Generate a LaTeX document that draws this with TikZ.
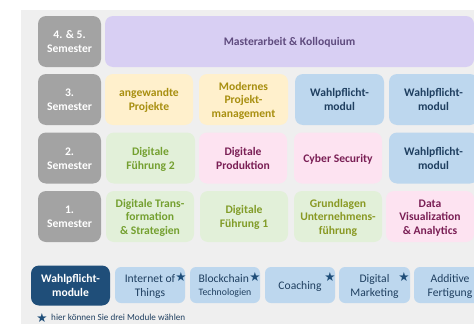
\documentclass[tikz,border=0pt]{standalone}
\usepackage{fontspec}
\setmainfont{Carlito}
\newfontfamily\starfont{DejaVu Sans}
\newcommand{\Tx}[2][c]{\raisebox{-1.5pt}[\height][\depth]{\begin{tabular}{@{}#1@{}}#2\end{tabular}}}
\definecolor{bgc}{HTML}{EFEFEF}
\definecolor{grayc}{HTML}{A3A3A3}
\definecolor{purplef}{HTML}{D8CFF3}
\definecolor{purplet}{HTML}{5F4B7E}
\definecolor{yellowf}{HTML}{FFF0CC}
\definecolor{yellowt}{HTML}{A88F10}
\definecolor{bluef}{HTML}{BDD7EE}
\definecolor{bluet}{HTML}{1F3F60}
\definecolor{greenf}{HTML}{E2F0D9}
\definecolor{greent}{HTML}{74A030}
\definecolor{pinkf}{HTML}{FDE3F1}
\definecolor{pinkt}{HTML}{7A1F55}
\definecolor{darkb}{HTML}{1F4E79}
\tikzset{
  cell/.style={inner sep=0pt,outer sep=0pt,rounded corners=8pt,font=\fontsize{11.6}{13.6}\selectfont\bfseries},
  sem/.style={cell,fill=grayc,text=white,minimum width=63pt,minimum height=51pt},
  purplecell/.style={cell,fill=purplef,text=purplet},
  yellowcell/.style={cell,fill=yellowf,text=yellowt,minimum height=51pt},
  bluecell/.style={cell,fill=bluef,text=bluet,minimum height=51pt},
  greencell/.style={cell,fill=greenf,text=greent,minimum height=51pt},
  pinkcell/.style={cell,fill=pinkf,text=pinkt,minimum height=51pt},
  elect/.style={inner sep=0pt,outer sep=0pt,rounded corners=6pt,fill=bluef,text=bluet,minimum height=36pt,font=\fontsize{11.6}{13.6}\selectfont},
  starn/.style={inner sep=0pt,text=darkb,font=\starfont\fontsize{12.5}{12.5}\selectfont},
}
\begin{document}
\begin{tikzpicture}[x=1pt,y=-1pt]
\useasboundingbox (0,0) rectangle (474,324);
\fill[bgc] (21,10) rectangle (474,324);
% semester column
\node[sem] (s45) at (69.5,41.5) {\Tx{4. \& 5.\\Semester}};
\node[sem] (s3) at (69.5,99.5) {\Tx{3.\\Semester}};
\node[sem] (s2) at (69.5,158) {\Tx{2.\\Semester}};
\node[sem] (s1) at (69.5,216.5) {\Tx{1.\\Semester}};
% thesis (clipped by right edge)
\begin{scope}
\clip (0,0) rectangle (474,324);
\node[purplecell,minimum width=369pt,minimum height=51pt] (ma) at (289.5,41.5) {\Tx{Masterarbeit \& Kolloquium}};
\end{scope}
% row 3
\node[yellowcell,minimum width=88pt] (r3a) at (149,99.5) {\Tx{angewandte\\Projekte}};
\node[yellowcell,minimum width=89pt] (r3b) at (243.5,99.5) {\Tx{Modernes\\Projekt-\\management}};
\node[bluecell,minimum width=89pt] (r3c) at (339.5,99.5) {\Tx{Wahlpflicht-\\modul}};
\node[bluecell,minimum width=89pt] (r3d) at (433.5,99.5) {\Tx{Wahlpflicht-\\modul}};
% row 2
\node[greencell,minimum width=89pt] (r2a) at (150.5,158) {\Tx{Digitale\\Führung 2}};
\node[pinkcell,minimum width=88pt] (r2b) at (243,158) {\Tx{Digitale\\Produktion}};
\node[pinkcell,minimum width=88pt] (r2c) at (338,158) {\Tx{Cyber Security}};
\node[bluecell,minimum width=89pt] (r2d) at (433.5,158) {\Tx{Wahlpflicht-\\modul}};
% row 1
\node[greencell,minimum width=88pt] (r1a) at (150,216.5) {\Tx{Digitale Trans-\\formation\\\& Strategien}};
\node[greencell,minimum width=88pt,text=greent!75!yellowt] (r1b) at (244,216.5) {\Tx{Digitale\\Führung 1}};
\node[greencell,minimum width=88pt,text=greent!60!yellowt] (r1c) at (338,216.5) {\Tx{Grundlagen\\Unternehmens-\\führung}};
\node[pinkcell,minimum width=88pt] (r1d) at (430,216.5) {\Tx{Data\\Visualization\\\& Analytics}};
% elective row
\node[cell,fill=darkb,text=white,minimum width=79pt,minimum height=40pt] (wm) at (70.5,285.5) {\Tx{Wahlpflicht-\\module}};
\node[elect,minimum width=70pt] (e1) at (150,285) {\Tx{Internet of\\Things}};
\node[elect,minimum width=70pt] (e2) at (225,285) {\Tx[l]{Blockchain\\[-1pt]{\fontsize{9.8}{10}\selectfont Technologien}}};
\node[elect,minimum width=70pt] (e3) at (300,285) {\Tx{Coaching}};
\node[elect,minimum width=71pt] (e4) at (374.5,285) {\Tx{Digital\\Marketing}};
\node[elect,minimum width=72pt] (e5) at (450,285) {\Tx{Additive\\Fertigung}};
\node[starn] (st1) at (181,277) {★};
\node[starn] (st2) at (255,277) {★};
\node[starn] (st3) at (330,277) {★};
\node[starn] (st4) at (404,277) {★};
\node[starn] (st5) at (42,318.5) {★};
\node[inner sep=0pt,anchor=west,text=bluet,font=\fontsize{9.15}{10}\selectfont] (legend) at (51,317.5) {hier können Sie drei Module wählen};
\end{tikzpicture}
\end{document}
